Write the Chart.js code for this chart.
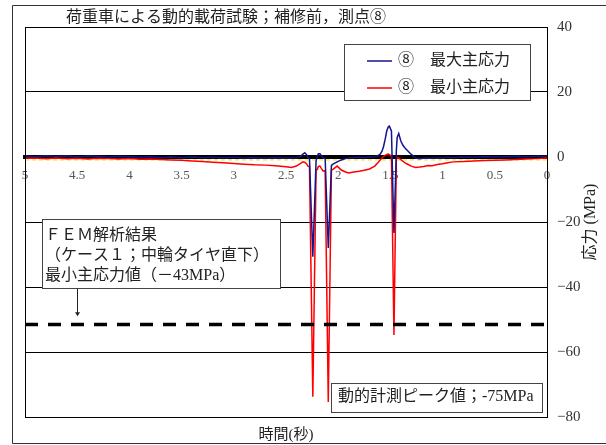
<!DOCTYPE html>
<html>
<head>
<meta charset="utf-8">
<script src="https://cdn.jsdelivr.net/npm/chart.js@4.4.0/dist/chart.umd.min.js"></script>
<style>
  html, body { margin: 0; padding: 0; background: #fff; }
  canvas { display: block; }
</style>
</head>
<body>
<canvas id="chart" width="606" height="445"></canvas>
<script>
// time in seconds, read left (5 s) to right (0 s)
const timeSec = [
  5.00, 4.90, 4.80, 4.70, 4.60, 4.50, 4.40, 4.30, 4.20, 4.10,
  4.00, 3.90, 3.80, 3.70, 3.60, 3.50, 3.40, 3.30, 3.20, 3.10,
  3.00, 2.90, 2.80, 2.70, 2.60, 2.50, 2.45, 2.40, 2.36, 2.34,
  2.32, 2.30, 2.29, 2.275, 2.243, 2.212, 2.20, 2.19, 2.175, 2.16,
  2.145, 2.125, 2.095, 2.065, 2.05, 2.01, 1.97, 1.93, 1.90, 1.85,
  1.80, 1.75, 1.70, 1.65, 1.62, 1.60, 1.58, 1.565, 1.55, 1.535,
  1.52, 1.51, 1.49, 1.466, 1.443, 1.435, 1.42, 1.40, 1.38,
  1.36, 1.33, 1.30, 1.26, 1.22, 1.18, 1.14, 1.10, 1.05, 1.00,
  0.95, 0.90, 0.80, 0.70, 0.60, 0.50, 0.40, 0.30, 0.20, 0.10,
  0.00
];

// ⑧ maximum principal stress (MPa)
const maxPrincipal = [
  0.3, 0.1, 0.4, 0.2, 0.3, 0.1, 0.3, 0.2, 0.0, 0.2,
  0.1, -0.1, 0.1, -0.2, 0.0, -0.2, 0.0, -0.2, -0.1, -0.3,
  -0.1, -0.3, -0.2, -0.3, -0.2, -0.3, -0.3, -0.2, 0.2, 0.8,
  1.3, 0.6, -0.3, -0.5, -30.7, -1.2, 0.2, 1.0, 1.0, 0.3,
  -0.3, -0.4, -28.0, -2.6, -2.2, -1.5, -0.9, -0.5, -0.3, -0.2,
  -0.1, -0.2, 0.0, 0.1, 0.4, 0.8, 1.8, 3.3, 5.5, 8.0,
  9.3, 9.5, 8.0, -23.4, 2.0, 6.0, 7.2, 4.9, 3.6,
  2.8, 1.8, 0.8, -0.3, -0.5, -0.4, -0.3, -0.4, -0.2, -0.3,
  -0.1, -0.2, 0.0, -0.1, 0.1, 0.0, 0.1, 0.2, 0.1, 0.2,
  0.2
];

// ⑧ minimum principal stress (MPa)
const minPrincipal = [
  -0.4, -0.3, -0.5, -0.3, -0.5, -0.4, -0.6, -0.4, -0.5, -0.6,
  -0.5, -0.7, -0.6, -0.8, -0.9, -1.0, -1.2, -1.4, -1.6, -1.8,
  -2.0, -2.2, -2.4, -2.5, -2.7, -3.0, -3.2, -2.8, -2.0, -1.5,
  -1.6, -2.2, -2.8, -3.0, -73.8, -4.0, -3.8, -2.9, -2.8, -3.6,
  -4.3, -4.2, -75.4, -4.0, -3.8, -2.8, -4.0, -4.6, -4.9, -4.6,
  -4.4, -4.1, -3.7, -2.8, -1.8, -1.0, -0.3, 0.2, 0.5, 0.8,
  0.9, 0.7, 0.2, -54.8, -0.6, -0.2, -0.3, -0.8, -1.3,
  -1.8, -2.3, -2.8, -3.2, -3.1, -2.9, -2.6, -2.7, -2.3, -2.1,
  -1.8, -1.5, -1.4, -1.2, -1.1, -1.0, -0.9, -0.8, -0.6, -0.5,
  -0.3
];

const seriesNames = ['⑧　最大主応力', '⑧　最小主応力'];
const timeSpan = [5, 0];
const offsetLevel = -0.9;   // yellow dashed trace just under zero
const femLevel = -51.5;     // dashed FEM reference line, as drawn

const xTickValues = [5, 4.5, 4, 3.5, 3, 2.5, 2, 1.5, 1, 0.5, 0];
const yTickValues = [40, 20, 0, -20, -40, -60, -80];

const titleText = '荷重車による動的載荷試験；補修前，測点⑧';
const xTitle = '時間(秒)';
const yTitle = '応力 (MPa)';
const femNote = ['ＦＥＭ解析結果', '（ケース１；中輪タイヤ直下）', '最小主応力値（－43MPa）'];
const peakNote = '動的計測ピーク値；-75MPa';

const SERIF = "'Liberation Serif', 'Noto Sans CJK JP', serif";

const toPoints = (ys) => timeSec.map((t, i) => ({ x: t, y: ys[i] }));
const flatLine = (v) => timeSpan.map(t => ({ x: t, y: v }));

// frame, legend, notes and titles
const decor = {
  id: 'decor',
  beforeDraw(chart) {
    const ctx = chart.ctx;
    ctx.save();
    ctx.fillStyle = '#fff';
    ctx.fillRect(0, 0, chart.width, chart.height);
    ctx.strokeStyle = '#333';
    ctx.lineWidth = 1;
    ctx.beginPath();
    ctx.moveTo(chart.width, 5.5);
    ctx.lineTo(12.5, 5.5);
    ctx.lineTo(12.5, 443.5);
    ctx.lineTo(chart.width, 443.5);
    ctx.stroke();
    ctx.restore();
  },
  afterDraw(chart) {
    const ctx = chart.ctx;
    const area = chart.chartArea;
    const xs = chart.scales.x;
    const ys = chart.scales.y;
    ctx.save();

    // left edge of plot box
    ctx.strokeStyle = '#000';
    ctx.lineWidth = 1;
    ctx.beginPath();
    ctx.moveTo(Math.round(area.left) + 0.5, area.top);
    ctx.lineTo(Math.round(area.left) + 0.5, area.bottom);
    ctx.stroke();

    const box = (x, y, w, h) => {
      ctx.fillStyle = '#fff';
      ctx.fillRect(x, y, w, h);
      ctx.strokeStyle = '#444';
      ctx.lineWidth = 1;
      ctx.strokeRect(x + 0.5, y + 0.5, w, h);
    };

    ctx.fillStyle = '#222';
    ctx.textBaseline = 'middle';
    ctx.textAlign = 'left';

    // legend
    box(344, 44, 186, 56);
    chart.data.datasets.slice(0, 2).forEach((ds, i) => {
      const y = 61 + i * 27;
      ctx.strokeStyle = ds.borderColor;
      ctx.lineWidth = 1.5;
      ctx.beginPath();
      ctx.moveTo(367, y);
      ctx.lineTo(392, y);
      ctx.stroke();
      ctx.fillStyle = '#222';
      ctx.font = '16px ' + SERIF;
      ctx.fillText(ds.label, 398, y);
    });

    // FEM note with arrow
    box(42, 219, 238, 69);
    ctx.fillStyle = '#222';
    ctx.font = '16px ' + SERIF;
    femNote.forEach((line, i) => ctx.fillText(line, 45, 236 + i * 20));
    const ax = Math.round(xs.getPixelForValue(4.5)) + 0.5;
    const tip = ys.getPixelForValue(femLevel + 2.5);
    ctx.strokeStyle = '#222';
    ctx.lineWidth = 1;
    ctx.beginPath();
    ctx.moveTo(ax, 289);
    ctx.lineTo(ax, tip - 3);
    ctx.stroke();
    ctx.beginPath();
    ctx.moveTo(ax - 2.5, tip - 4);
    ctx.lineTo(ax + 2.5, tip - 4);
    ctx.lineTo(ax, tip);
    ctx.closePath();
    ctx.fill();

    // peak note
    box(331, 383, 211, 29);
    ctx.fillStyle = '#222';
    ctx.fillText(peakNote, 338, 397);

    // chart title
    ctx.font = '16px ' + SERIF;
    ctx.fillText(titleText, 66, 18);

    // axis titles
    ctx.textAlign = 'center';
    ctx.font = '15px ' + SERIF;
    ctx.fillText(xTitle, (area.left + area.right) / 2, 435);
    ctx.translate(591, (area.top + area.bottom) / 2);
    ctx.rotate(-Math.PI / 2);
    ctx.font = '16px ' + SERIF;
    ctx.fillText(yTitle, 0, 0);

    ctx.restore();
  }
};

new Chart(document.getElementById('chart'), {
  type: 'line',
  data: {
    datasets: [
      {
        label: seriesNames[0],
        data: toPoints(maxPrincipal),
        borderColor: '#14148c',
        borderWidth: 1.5,
        pointRadius: 0,
        order: 2
      },
      {
        label: seriesNames[1],
        data: toPoints(minPrincipal),
        borderColor: '#ff0000',
        borderWidth: 1.5,
        pointRadius: 0,
        order: 3
      },
      {
        label: 'offset',
        data: flatLine(offsetLevel),
        borderColor: '#f2dc00',
        borderWidth: 1,
        borderDash: [4, 3],
        pointRadius: 0,
        order: 4
      },
      {
        label: 'FEM',
        data: flatLine(femLevel),
        borderColor: '#000',
        borderWidth: 3.5,
        borderDash: [13, 10],
        pointRadius: 0,
        order: 1
      }
    ]
  },
  options: {
    responsive: false,
    animation: false,
    layout: { padding: { left: 25, top: 27, bottom: 28, right: 0 } },
    plugins: {
      legend: { display: false },
      tooltip: { enabled: false }
    },
    scales: {
      x: {
        type: 'linear',
        position: { y: 0 },
        min: 0,
        max: 5,
        reverse: true,
        afterBuildTicks: (s) => { s.ticks = xTickValues.map(v => ({ value: v })); },
        grid: { drawOnChartArea: false, drawTicks: false },
        border: { color: '#000', width: 4 },
        ticks: {
          autoSkip: false,
          maxRotation: 0,
          padding: 11,
          color: '#555',
          font: { family: SERIF, size: 13 },
          callback: (v) => String(v)
        }
      },
      y: {
        position: 'right',
        min: -80,
        max: 40,
        afterBuildTicks: (s) => { s.ticks = yTickValues.map(v => ({ value: v })); },
        afterFit: (s) => { s.width = 59; },
        grid: { color: '#000', lineWidth: 1, drawTicks: false },
        border: { color: '#000', width: 1 },
        ticks: {
          padding: 10,
          color: '#333',
          font: { family: SERIF, size: 15 },
          callback: (v) => (v < 0 ? '−' + Math.abs(v) : String(v))
        }
      }
    }
  },
  plugins: [decor]
});
</script>
</body>
</html>
